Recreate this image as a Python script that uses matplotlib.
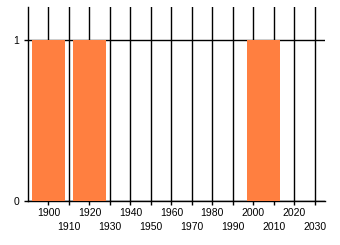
import matplotlib.pyplot as plt
import numpy as np

years = [1900, 1920, 2005]
values = [1, 1, 1]
tick_years = list(range(1900, 2040, 10))
tick_labels = [str(y) for y in tick_years]

plt.rcParams['font.family'] = ['Liberation Sans', 'DejaVu Sans']

fig = plt.figure(figsize=(3.4, 2.45), dpi=100)
ax = fig.add_axes([28 / 340, 44 / 245, 297 / 340, 194 / 245])

ax.bar(years, values, width=16, color='#ff7f40', zorder=3)

ax.set_xlim(1890, 2035)
ax.set_ylim(0, 1.205)
ax.set_yticks([0, 1])
ax.set_yticklabels(['0', '1'], fontsize=7.5)
ax.set_xticks(tick_years)
ax.set_xticklabels(tick_labels, fontsize=7.5)

# staggered labels: every other one goes on a second row
for i, t in enumerate(ax.xaxis.get_major_ticks()):
    t.set_pad(2 if i % 2 == 0 else 12)

ax.tick_params(length=3, width=1, color='black', labelcolor='black')
ax.grid(True, axis='both', color='black', linewidth=1)
ax.set_axisbelow(True)

for s in ['top', 'right']:
    ax.spines[s].set_visible(False)
for s in ['left', 'bottom']:
    ax.spines[s].set_color('black')
    ax.spines[s].set_linewidth(1)

fig.savefig('out.png', dpi=100)
